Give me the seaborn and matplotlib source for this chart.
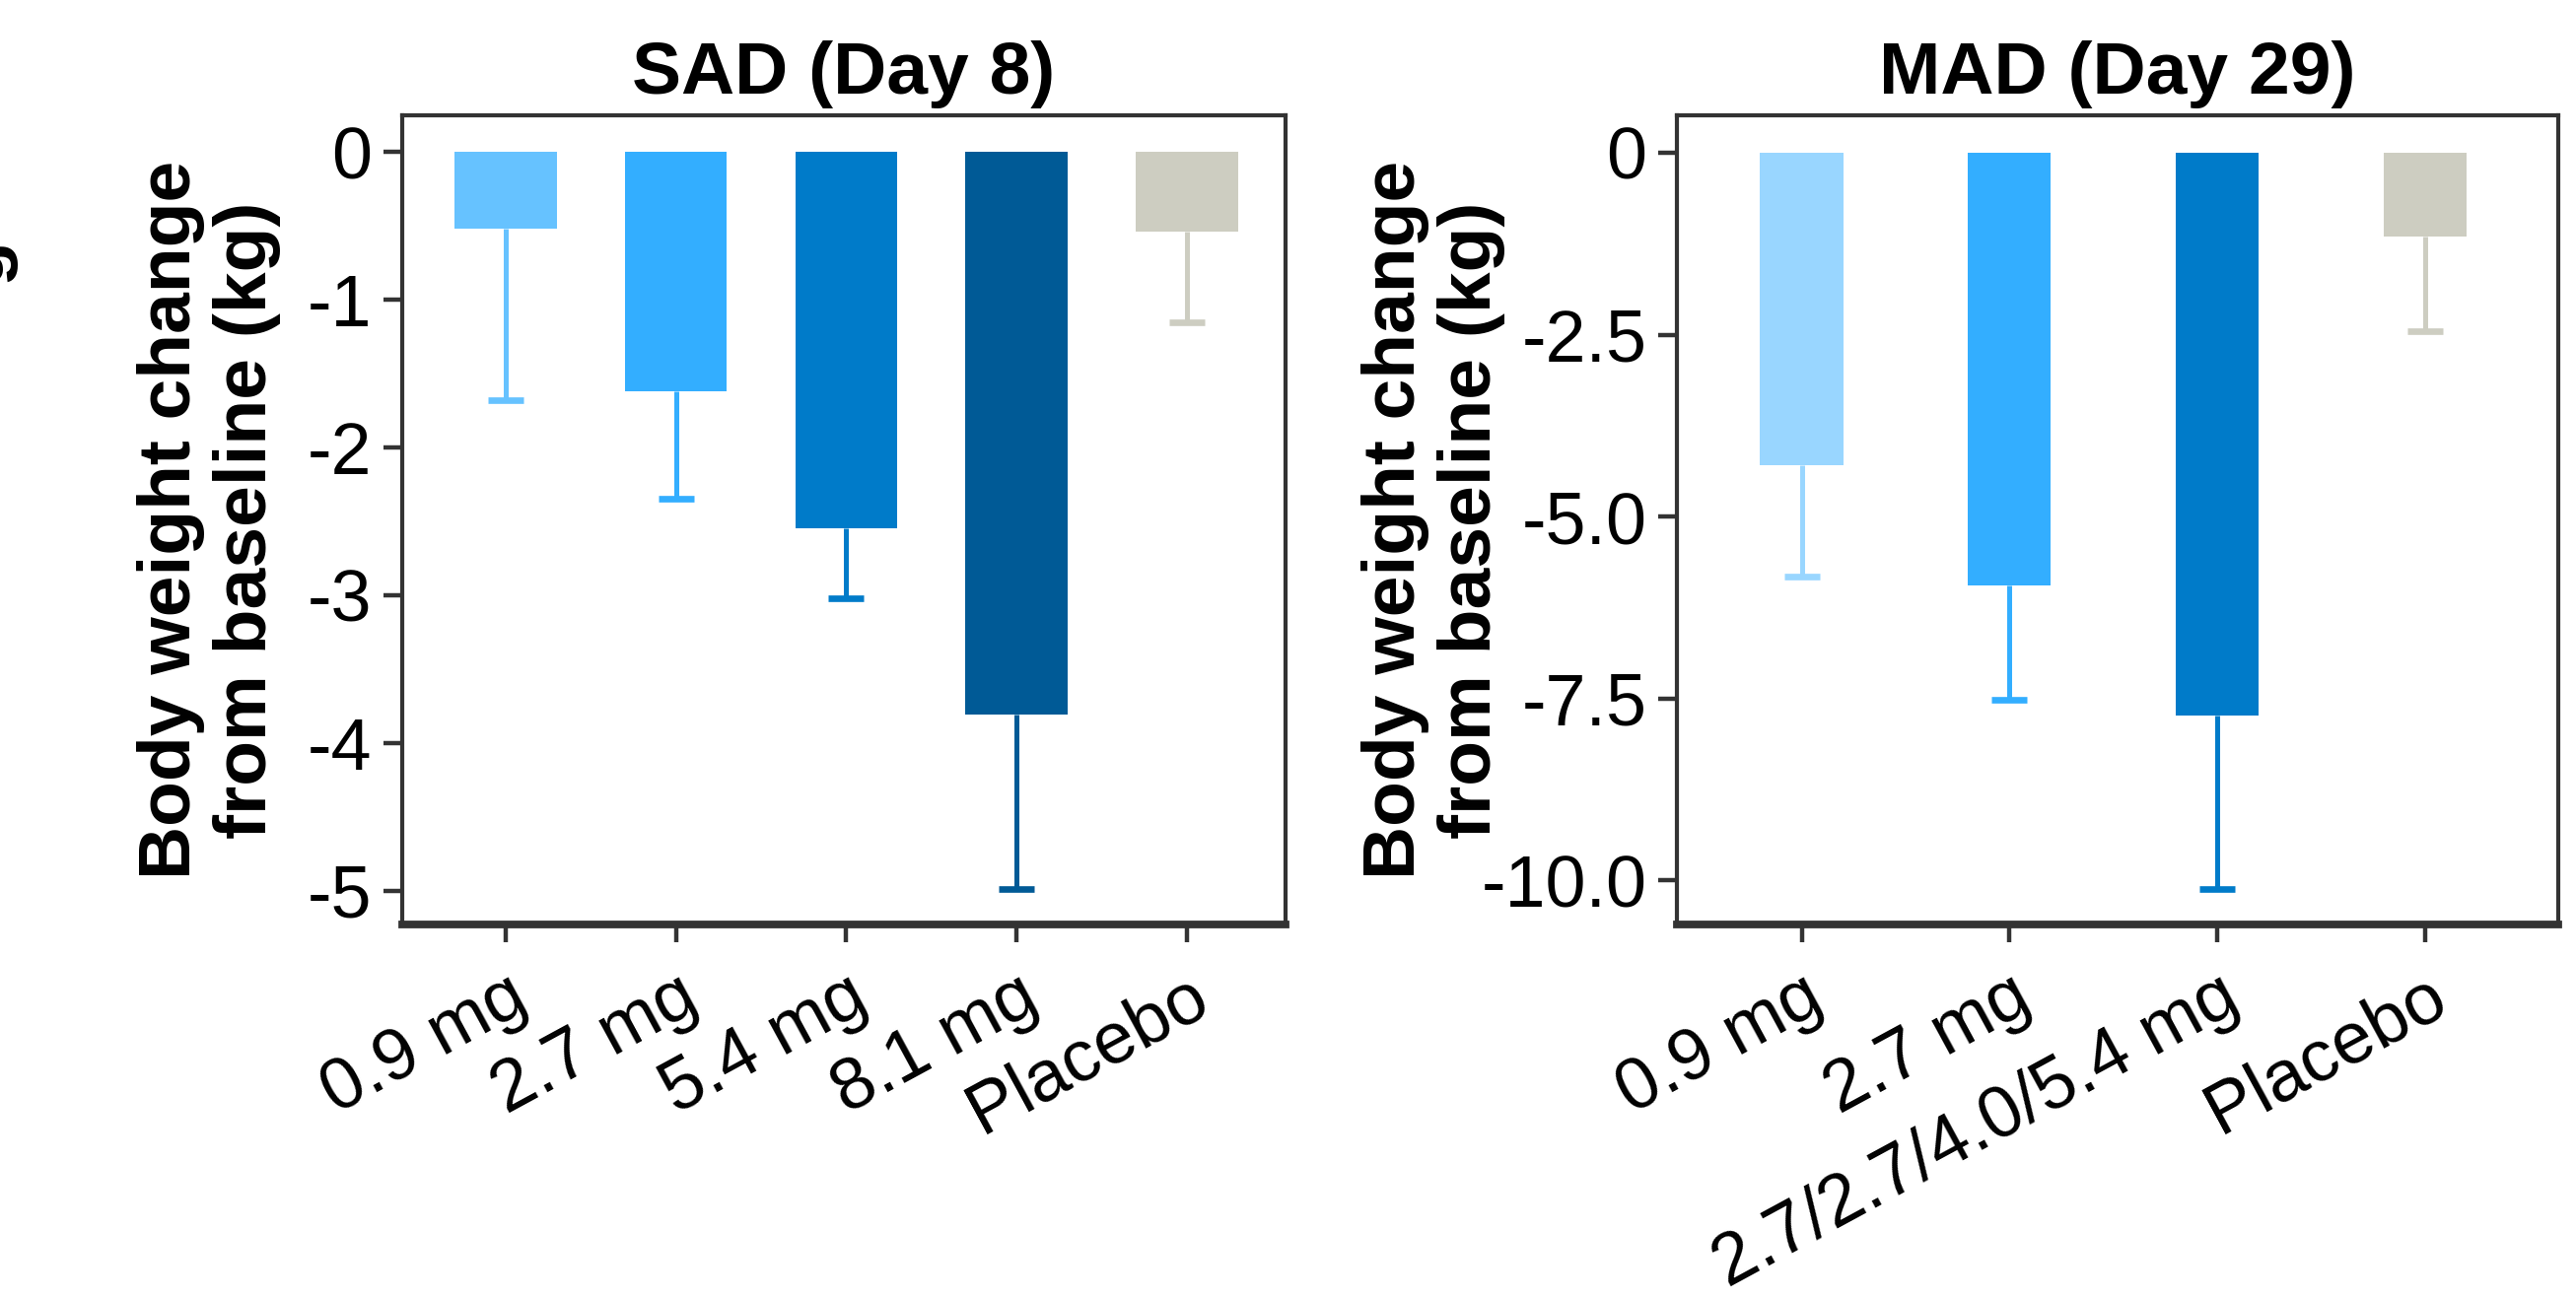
import matplotlib
matplotlib.use("Agg")
import matplotlib.pyplot as plt
import matplotlib.transforms as mtransforms
import seaborn as sns
import numpy as np

# ---------------- data ----------------
sad_labels = ["0.9 mg", "2.7 mg", "5.4 mg", "8.1 mg", "Placebo"]
sad_mean = [-0.52, -1.62, -2.55, -3.81, -0.54]
sad_err_end = [-1.68, -2.35, -3.02, -4.99, -1.15]
sad_colors = ["#66C2FF", "#33AEFF", "#007BC9", "#005A96", "#CDCDC1"]

mad_labels = ["0.9 mg", "2.7 mg", "2.7/2.7/4.0/5.4 mg", "Placebo"]
mad_mean = [-4.29, -5.94, -7.73, -1.15]
mad_err_end = [-5.82, -7.51, -10.12, -2.45]
mad_colors = ["#99D6FF", "#33AEFF", "#007BC9", "#CDCDC1"]

sad_yticks = [0, -1, -2, -3, -4, -5]
sad_yticklabels = ["0", "-1", "-2", "-3", "-4", "-5"]
mad_yticks = [0, -2.5, -5.0, -7.5, -10.0]
mad_yticklabels = ["0", "-2.5", "-5.0", "-7.5", "-10.0"]

ylabel = "Body weight change\nfrom baseline (kg)"

sns.set_theme(style="white")
plt.rcParams["font.family"] = ["Liberation Sans", "DejaVu Sans"]
plt.rcParams["text.color"] = "black"
plt.rcParams["axes.labelcolor"] = "black"
plt.rcParams["xtick.color"] = "black"
plt.rcParams["ytick.color"] = "black"

DPI = 200
fig = plt.figure(figsize=(2613 / DPI, 1318 / DPI), dpi=DPI)

ax1 = fig.add_axes([0.156, 0.288, 0.343, 0.623])
ax2 = fig.add_axes([0.651, 0.288, 0.342, 0.623])

spine_col = "#333333"
tick_fs = 26.5


def panel(ax, labels, means, ends, colors, width, title, yticks, yticklabels,
          ylim, xlim, ylab_x):
    sns.barplot(x=labels, y=means, hue=labels, palette=colors, saturation=1,
                width=width, legend=False, ax=ax, errorbar=None, order=labels,
                hue_order=labels, linewidth=0)
    for i, (m, e, c) in enumerate(zip(means, ends, colors)):
        # one-sided (downward) error bar, cap only at the far end
        ax.errorbar(i, m, yerr=[[m - e], [0]], fmt="none", ecolor=c,
                    elinewidth=1.8, capsize=0, zorder=3)
        ax.plot([i], [e], marker="_", markersize=13, markeredgewidth=2.4,
                color=c, zorder=3)
    ax.set_ylim(*ylim)
    ax.set_xlim(*xlim)
    ax.set_yticks(yticks)
    ax.set_yticklabels(yticklabels, fontsize=tick_fs)
    ax.set_xticks(range(len(labels)))
    ax.set_xticklabels(labels, fontsize=tick_fs, rotation=28.5, ha="right",
                       rotation_mode="anchor")
    shift = mtransforms.ScaledTranslation(10 / DPI, 0, fig.dpi_scale_trans)
    for lab in ax.get_xticklabels():
        lab.set_transform(lab.get_transform() + shift)
    ax.set_title(title, fontsize=27, fontweight="bold", pad=8, color="black")
    ax.set_ylabel(ylabel, fontsize=27, fontweight="bold",
                  linespacing=1.15, color="black")
    ax.yaxis.set_label_coords(ylab_x, 0.5)
    ax.set_xlabel("")
    for s in ax.spines.values():
        s.set_visible(True)
        s.set_color(spine_col)
        s.set_linewidth(1.5)
    ax.spines["bottom"].set_linewidth(2.8)
    ax.tick_params(axis="y", direction="out", length=7, width=1.6,
                   color=spine_col, pad=4, left=True)
    ax.tick_params(axis="x", direction="out", length=6.5, width=1.6,
                   color=spine_col, pad=7, bottom=True)


panel(ax1, sad_labels, sad_mean, sad_err_end, sad_colors, 0.6, "SAD (Day 8)",
      sad_yticks, sad_yticklabels, (-5.23, 0.245), (-0.61, 4.58), -0.137)
panel(ax2, mad_labels, mad_mean, mad_err_end, mad_colors, 0.4, "MAD (Day 29)",
      mad_yticks, mad_yticklabels, (-10.61, 0.51), (-0.6, 3.64), -0.195)

# cropped fragment of a neighbouring label at the left edge
fig.text(-0.007, 0.80, "g", rotation=90, fontsize=27, fontweight="bold",
         ha="center", va="center")

fig.savefig("out.png", dpi=DPI, facecolor="white")
